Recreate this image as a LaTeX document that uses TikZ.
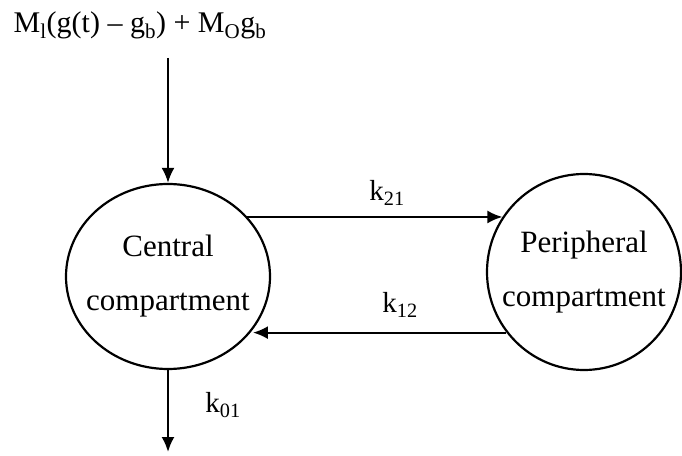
\documentclass[tikz,border=0pt]{standalone}
\usepackage{fontspec}
\setmainfont{Liberation Serif}
\usetikzlibrary{shapes.geometric,arrows.meta}

\tikzset{
    compt/.style={ellipse, draw, line width=2.2pt, inner sep=-18pt, align=center,
        font=\fontsize{31}{54}\selectfont},
    rate/.style={font=\fontsize{29}{32}\selectfont},
    flow/.style={->, line width=2.2pt}
}

\begin{document}
\begin{tikzpicture}[x=1pt, y=1pt, >={Latex[length=15pt,width=13pt]}]
    \useasboundingbox (0,0) rectangle (682,455);

    % Hai ngan
    \node[compt, minimum width=204pt, minimum height=185pt] (central) at (168,178.5) {Central\\compartment};
    \node[compt, minimum width=194pt, minimum height=196pt] (periph) at (584,183) {Peripheral\\compartment};

    % Dau vao
    \node[rate, font=\fontsize{30}{32}\selectfont, anchor=base] (input) at (140,422)
        {M\textsubscript{l}(g(t) -- g\textsubscript{b}) + M\textsubscript{O}g\textsubscript{b}};
    \coordinate (feed) at (168,397);
    \coordinate (drain) at (168,3);

    % Cac mui ten
    \draw[flow] (feed) -- (central.north);
    \draw[flow] (central.37 |- periph.146) -- (periph.146);
    \draw[flow] (periph.218) -- (central.-32 |- periph.218);
    \draw[flow] (central.south) -- (drain);

    % Hang so toc do
    \node[rate] (k21) at (387,262) {k\textsubscript{21}};
    \node[rate] (k12) at (400,150) {k\textsubscript{12}};
    \node[rate] (k01) at (223,50) {k\textsubscript{01}};
\end{tikzpicture}
\end{document}
